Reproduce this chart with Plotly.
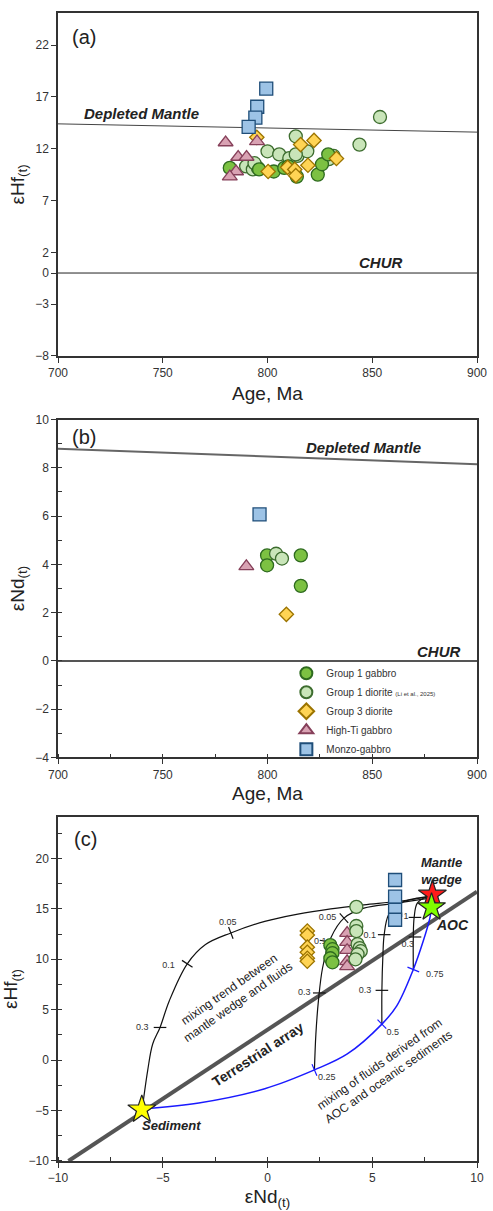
import plotly.graph_objects as go

# ---------------- DATA ----------------
# Panel (a): Age (Ma) vs eHf(t)
a_g1gab_age = [782, 796, 803, 808, 810, 814, 824, 826, 829]
a_g1gab_hf = [10.15, 10.0, 9.8, 10.15, 10.3, 9.3, 9.5, 10.5, 11.45]
a_g1dio_age = [853.7, 843.9, 813.5, 800, 805.6, 814.3, 819, 831.6, 829.3, 789.8, 793, 795.4, 793.8, 810.4, 813.5]
a_g1dio_hf = [15.06, 12.4, 13.2, 11.75, 11.45, 11.3, 11.75, 11.3, 11.0, 10.3, 10.0, 10.15, 10.6, 11.1, 11.45]
a_g3dio_age = [794.9, 800.3, 815.8, 822.2, 809.6, 813.0, 819.3, 832.9, 813.5]
a_g3dio_hf = [13.1, 9.8, 12.4, 12.8, 10.2, 10.0, 10.4, 11.05, 9.4]
a_hiti_age = [780, 786, 790, 795, 785, 782]
a_hiti_hf = [12.6, 11.2, 11.2, 12.7, 9.8, 9.3]
a_monzo_age = [799.4, 795.1, 794.2, 791.0]
a_monzo_hf = [17.8, 16.05, 15.0, 14.1]
a_dm_age = [700, 900]
a_dm_hf = [14.4, 13.6]

# Panel (b): Age (Ma) vs eNd(t)
b_g1gab_age = [799.8, 799.8, 815.9, 815.9]
b_g1gab_nd = [4.37, 3.96, 4.37, 3.11]
b_g1dio_age = [804.1, 806.9]
b_g1dio_nd = [4.44, 4.24]
b_g3dio_age = [809.0]
b_g3dio_nd = [1.93]
b_hiti_age = [789.9]
b_hiti_nd = [3.92]
b_monzo_age = [796.2]
b_monzo_nd = [6.07]
b_dm_age = [700, 900]
b_dm_nd = [8.79, 8.15]

# Panel (c): eNd(t) vs eHf(t)
c_g1gab_nd = [3.0, 3.1, 3.1, 3.0, 3.1]
c_g1gab_hf = [11.4, 11.0, 10.6, 10.1, 9.7]
c_g1dio_nd = [4.24, 4.24, 4.24, 4.3, 4.4, 4.45, 4.3, 4.2]
c_g1dio_hf = [15.2, 13.3, 12.8, 11.5, 11.1, 10.8, 10.5, 10.0]
c_g3dio_nd = [1.9, 1.9, 1.9, 1.9, 1.9, 1.9]
c_g3dio_hf = [12.8, 12.4, 11.2, 10.7, 10.1, 9.8]
c_hiti_nd = [3.8, 3.8, 3.8, 3.8, 3.8]
c_hiti_hf = [12.6, 11.7, 10.9, 9.8, 9.3]
c_monzo_nd = [6.09, 6.09, 6.09, 6.09]
c_monzo_hf = [17.86, 16.22, 14.9, 13.92]

terr_nd = [-9.5, 10.0]
terr_hf = [-10.0, 16.7]

sed_nd, sed_hf = [-6.0], [-4.9]
mw_nd, mw_hf = [7.87], [16.4]
aoc_nd, aoc_hf = [7.83], [15.15]

curve1_nd = [-5.98, -5.72, -5.48, -5.13, -4.69, -3.83, -2.96, -1.75, -0.13, 1.45, 3.02, 4.6, 6.17, 7.75]
curve1_hf = [-4.85, -1.03, 1.6, 3.24, 5.87, 9.55, 11.46, 12.61, 13.76, 14.48, 15.0, 15.4, 15.73, 16.2]
curve2_nd = [2.24, 2.31, 2.43, 2.63, 3.02, 3.65, 4.6, 6.17, 7.75]
curve2_hf = [-0.97, 2.58, 5.87, 9.16, 12.11, 14.08, 15.07, 15.56, 16.06]
curve3_nd = [5.46, 5.46, 5.51, 5.57, 5.78, 6.33, 7.12, 7.75]
curve3_hf = [3.57, 6.92, 10.47, 12.44, 14.41, 15.56, 16.06, 16.22]
curve4_nd = [6.96, 6.96, 7.0, 7.15, 7.6]
curve4_hf = [8.99, 12.18, 14.15, 15.56, 16.22]
blue_nd = [-5.98, -3.28, -0.13, 2.24, 3.81, 5.46, 6.17, 6.96, 7.43, 7.75, 7.83]
blue_hf = [-4.85, -4.25, -2.84, -0.97, 0.61, 3.57, 5.38, 8.99, 11.78, 14.08, 15.15]

btick_nd = [-5.13, -3.83, -1.75, 2.47, 2.79, 3.65, 5.46, 5.57, 7.04, 7.04]
btick_hf = [3.24, 9.55, 12.61, 6.66, 11.78, 14.08, 6.92, 12.44, 12.21, 14.15]
btick_ang = [0, 33, 69, 0, 10, 48, 0, 0, 0, 0]
btick_lab = ["0.3", "0.1", "0.05", "0.3", "0.1", "0.05", "0.3", "0.1", "0.3", "1"]
btick_lab_nd = [-5.98, -4.72, -1.9, 1.76, 2.52, 2.87, 4.65, 4.88, 6.69, 6.61]
btick_lab_hf = [3.24, 9.32, 13.66, 6.66, 11.78, 14.08, 6.92, 12.38, 11.39, 14.25]

blutick_nd = [2.24, 5.46, 6.96]
blutick_hf = [-0.97, 3.57, 8.99]
blutick_ang = [67, 46, 22]
blutick_lab = ["0.25", "0.5", "0.75"]
blutick_lab_nd = [2.83, 5.98, 7.98]
blutick_lab_hf = [-1.79, 2.75, 8.5]

# ---------------- STYLE ----------------
groups = {
    "g1gab": dict(name="Group 1 gabbro", symbol="circle", size=13, color="#7cc142", line="#2e6b1f"),
    "g1dio": dict(name="Group 1 diorite <span style='font-size:6px'>(Li et al., 2025)</span>",
                  symbol="circle", size=13, color="#c9e5b9", line="#3d6d2f"),
    "g3dio": dict(name="Group 3 diorite", symbol="diamond", size=11, color="#ffd454", line="#9c7400"),
    "hiti": dict(name="High-Ti gabbro", symbol="triangle-up", size=13, color="#d9a2b3", line="#86405a"),
    "monzo": dict(name="Monzo-gabbro", symbol="square", size=13, color="#9dc3e6", line="#1f4e79"),
}

FONT = "Liberation Sans, Arial, sans-serif"
fig = go.Figure()


def add_pts(key, x, y, xa, ya, legend=False):
    g = groups[key]
    fig.add_trace(go.Scatter(
        x=x, y=y, mode="markers", xaxis=xa, yaxis=ya, name=g["name"],
        legendgroup=key, showlegend=legend,
        marker=dict(symbol=g["symbol"], size=g["size"], color=g["color"],
                    line=dict(color=g["line"], width=1.3)),
        hoverinfo="x+y"))


def add_line(x, y, xa, ya, color, width, shape="linear"):
    fig.add_trace(go.Scatter(x=x, y=y, mode="lines", xaxis=xa, yaxis=ya, showlegend=False,
                             line=dict(color=color, width=width, shape=shape), hoverinfo="skip"))


# ---- Panel (a)
add_line(a_dm_age, a_dm_hf, "x", "y", "#444", 1)
add_line([700, 900], [0, 0], "x", "y", "#222", 1)
for k, xs, ys in [("g1dio", a_g1dio_age, a_g1dio_hf), ("g1gab", a_g1gab_age, a_g1gab_hf),
                  ("g3dio", a_g3dio_age, a_g3dio_hf), ("hiti", a_hiti_age, a_hiti_hf),
                  ("monzo", a_monzo_age, a_monzo_hf)]:
    add_pts(k, xs, ys, "x", "y")

# ---- Panel (b)
add_line(b_dm_age, b_dm_nd, "x2", "y2", "#666", 2)
add_line([700, 900], [0, 0], "x2", "y2", "#555", 2)
for k, xs, ys in [("g1gab", b_g1gab_age, b_g1gab_nd), ("g1dio", b_g1dio_age, b_g1dio_nd),
                  ("g3dio", b_g3dio_age, b_g3dio_nd), ("hiti", b_hiti_age, b_hiti_nd),
                  ("monzo", b_monzo_age, b_monzo_nd)]:
    add_pts(k, xs, ys, "x2", "y2", legend=True)

# ---- Panel (c)
add_line(terr_nd, terr_hf, "x3", "y3", "#555", 4)
for cx, cy in [(curve1_nd, curve1_hf), (curve2_nd, curve2_hf), (curve3_nd, curve3_hf), (curve4_nd, curve4_hf)]:
    add_line(cx, cy, "x3", "y3", "#111", 1.2, "spline")
add_line(blue_nd, blue_hf, "x3", "y3", "#1a1aff", 1.5, "spline")

fig.add_trace(go.Scatter(x=btick_nd, y=btick_hf, mode="markers", xaxis="x3", yaxis="y3", showlegend=False,
                         marker=dict(symbol="line-ew", size=9, angle=btick_ang,
                                     line=dict(color="#111", width=1.2)), hoverinfo="skip"))
fig.add_trace(go.Scatter(x=blutick_nd, y=blutick_hf, mode="markers", xaxis="x3", yaxis="y3", showlegend=False,
                         marker=dict(symbol="line-ew", size=9, angle=blutick_ang,
                                     line=dict(color="#1a1aff", width=1.2)), hoverinfo="skip"))
fig.add_trace(go.Scatter(x=btick_lab_nd, y=btick_lab_hf, mode="text", text=btick_lab, xaxis="x3", yaxis="y3",
                         showlegend=False, textposition="middle center",
                         textfont=dict(size=9, color="#333", family=FONT), hoverinfo="skip"))
fig.add_trace(go.Scatter(x=blutick_lab_nd, y=blutick_lab_hf, mode="text", text=blutick_lab, xaxis="x3", yaxis="y3",
                         showlegend=False, textposition="middle center",
                         textfont=dict(size=9, color="#333", family=FONT), hoverinfo="skip"))

for k, xs, ys in [("g3dio", c_g3dio_nd, c_g3dio_hf), ("g1gab", c_g1gab_nd, c_g1gab_hf),
                  ("hiti", c_hiti_nd, c_hiti_hf), ("g1dio", c_g1dio_nd, c_g1dio_hf),
                  ("monzo", c_monzo_nd, c_monzo_hf)]:
    add_pts(k, xs, ys, "x3", "y3")

for sx, sy, col in [(sed_nd, sed_hf, "#ffff00"), (mw_nd, mw_hf, "#ff1a1a"), (aoc_nd, aoc_hf, "#80ff00")]:
    fig.add_trace(go.Scatter(x=sx, y=sy, mode="markers", xaxis="x3", yaxis="y3", showlegend=False,
                             marker=dict(symbol="star", size=21, color=col, line=dict(color="#222", width=1.2)),
                             hoverinfo="x+y"))

# ---------------- LAYOUT ----------------
def ax(**kw):
    base = dict(showline=True, mirror=True, linecolor="#333", linewidth=1.5, ticks="outside", ticklen=5,
                tickcolor="#333", tickwidth=1, showgrid=False, zeroline=False,
                tickfont=dict(size=12, color="#333", family=FONT))
    base.update(kw)
    return base


TF = dict(size=19, color="#222", family=FONT)
fig.update_layout(
    width=493, height=1211, margin=dict(l=58, r=12, t=6, b=50),
    paper_bgcolor="white", plot_bgcolor="white", font=dict(family=FONT),
    xaxis=ax(domain=[0, 1], anchor="y", range=[700, 900], tickvals=[700, 750, 800, 850, 900],
             title=dict(text="Age, Ma", font=TF, standoff=8)),
    yaxis=ax(domain=[0.7013, 1], anchor="x", range=[-8, 25.1], tickvals=[22, 17, 12, 7, 2, 0, -3, -8],
             title=dict(text="εHf<sub>(t)</sub>", font=TF, standoff=6)),
    xaxis2=ax(domain=[0, 1], anchor="y2", range=[700, 900], dtick=50,
              minor=dict(dtick=25, ticks="inside", ticklen=4, tickcolor="#333"),
              title=dict(text="Age, Ma", font=TF, standoff=6)),
    yaxis2=ax(domain=[0.3515, 0.6459], anchor="x2", range=[-4, 10], dtick=2,
              minor=dict(dtick=1, ticks="inside", ticklen=4, tickcolor="#333"),
              title=dict(text="εNd<sub>(t)</sub>", font=TF, standoff=6)),
    xaxis3=ax(domain=[0, 1], anchor="y3", range=[-10, 10], dtick=5,
              minor=dict(dtick=2.5, ticks="inside", ticklen=4, tickcolor="#333"),
              title=dict(text="εNd<sub>(t)</sub>", font=TF, standoff=6)),
    yaxis3=ax(domain=[0, 0.2996], anchor="x3", range=[-10, 24.1], dtick=5,
              minor=dict(dtick=2.5, ticks="inside", ticklen=4, tickcolor="#333"),
              title=dict(text="εHf<sub>(t)</sub>", font=TF, standoff=6)),
    legend=dict(x=0.545, y=0.4375, xanchor="left", yanchor="top", bgcolor="rgba(0,0,0,0)",
                font=dict(size=10, color="#333", family=FONT), itemsizing="constant",
                tracegroupgap=0),
)

BI = dict(family=FONT, size=15, color="#222")
ann = [
    dict(x=712.6, y=22.8, xref="x", yref="y", text="(a)", font=dict(size=20, color="#222", family=FONT)),
    dict(x=740, y=15.4, xref="x", yref="y", text="<b><i>Depleted Mantle</i></b>", font=BI),
    dict(x=854, y=1.0, xref="x", yref="y", text="<b><i>CHUR</i></b>", font=BI),
    dict(x=712.6, y=9.29, xref="x2", yref="y2", text="(b)", font=dict(size=20, color="#222", family=FONT)),
    dict(x=845.9, y=8.83, xref="x2", yref="y2", text="<b><i>Depleted Mantle</i></b>", font=BI),
    dict(x=881.4, y=0.39, xref="x2", yref="y2", text="<b><i>CHUR</i></b>", font=BI),
    dict(x=-8.71, y=21.97, xref="x3", yref="y3", text="(c)", font=dict(size=20, color="#222", family=FONT)),
    dict(x=8.3, y=18.75, xref="x3", yref="y3", text="<b><i>Mantle<br>wedge</i></b>",
         font=dict(size=13, color="#222", family=FONT)),
    dict(x=8.85, y=13.43, xref="x3", yref="y3", text="<b><i>AOC</i></b>", font=dict(size=14, color="#222", family=FONT)),
    dict(x=-4.58, y=-6.5, xref="x3", yref="y3", text="<b><i>Sediment</i></b>", font=dict(size=13, color="#222", family=FONT)),
    dict(x=-0.44, y=0.61, xref="x3", yref="y3", text="<b>Terrestrial array</b>", textangle=-33,
         font=dict(size=14, color="#222", family=FONT)),
    dict(x=-1.62, y=6.36, xref="x3", yref="y3", text="mixing trend between<br>mantle wedge and fluids",
         textangle=-35, font=dict(size=12, color="#222", family=FONT)),
    dict(x=5.54, y=-1.04, xref="x3", yref="y3", text="mixing of fluids derived from<br>AOC and oceanic sediments",
         textangle=-35, font=dict(size=12, color="#222", family=FONT)),
]
for a in ann:
    a.setdefault("showarrow", False)
fig.update_layout(annotations=ann)

fig.write_html("out.html")
